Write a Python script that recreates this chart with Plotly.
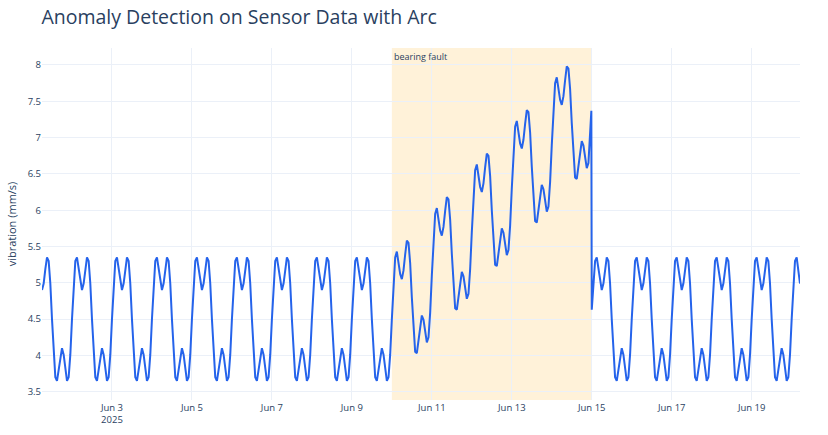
import pandas as pd
import plotly.graph_objects as go

# Hourly vibration readings (mm/s)
# Jun 1 06:00 -> Jun 9 23:00 (normal operation)
vib_before = [
    4.90, 4.99, 5.19, 5.35, 5.30, 4.99, 4.50, 4.01, 3.70, 3.65, 3.81, 4.01, 4.10, 4.01, 3.81, 3.65, 3.70, 4.01,
    4.50, 4.99, 5.30, 5.35, 5.19, 4.99, 4.90, 4.99, 5.19, 5.35, 5.30, 4.99, 4.50, 4.01, 3.70, 3.65, 3.81, 4.01, 4.10, 4.01, 3.81, 3.65, 3.70, 4.01,
    4.50, 4.99, 5.30, 5.35, 5.19, 4.99, 4.90, 4.99, 5.19, 5.35, 5.30, 4.99, 4.50, 4.01, 3.70, 3.65, 3.81, 4.01, 4.10, 4.01, 3.81, 3.65, 3.70, 4.01,
    4.50, 4.99, 5.30, 5.35, 5.19, 4.99, 4.90, 4.99, 5.19, 5.35, 5.30, 4.99, 4.50, 4.01, 3.70, 3.65, 3.81, 4.01, 4.10, 4.01, 3.81, 3.65, 3.70, 4.01,
    4.50, 4.99, 5.30, 5.35, 5.19, 4.99, 4.90, 4.99, 5.19, 5.35, 5.30, 4.99, 4.50, 4.01, 3.70, 3.65, 3.81, 4.01, 4.10, 4.01, 3.81, 3.65, 3.70, 4.01,
    4.50, 4.99, 5.30, 5.35, 5.19, 4.99, 4.90, 4.99, 5.19, 5.35, 5.30, 4.99, 4.50, 4.01, 3.70, 3.65, 3.81, 4.01, 4.10, 4.01, 3.81, 3.65, 3.70, 4.01,
    4.50, 4.99, 5.30, 5.35, 5.19, 4.99, 4.90, 4.99, 5.19, 5.35, 5.30, 4.99, 4.50, 4.01, 3.70, 3.65, 3.81, 4.01, 4.10, 4.01, 3.81, 3.65, 3.70, 4.01,
    4.50, 4.99, 5.30, 5.35, 5.19, 4.99, 4.90, 4.99, 5.19, 5.35, 5.30, 4.99, 4.50, 4.01, 3.70, 3.65, 3.81, 4.01, 4.10, 4.01, 3.81, 3.65, 3.70, 4.01,
    4.50, 4.99, 5.30, 5.35, 5.19, 4.99, 4.90, 4.99, 5.19, 5.35, 5.30, 4.99, 4.50, 4.01, 3.70, 3.65, 3.81, 4.01, 4.10, 4.01, 3.81, 3.65, 3.70, 4.01,
]

# Jun 10 00:00 -> Jun 14 23:00 hourly, plus Jun 14 23:45 (bearing fault)
vib_fault = [
    4.50, 5.02, 5.35, 5.43, 5.29, 5.12, 5.05, 5.17, 5.39, 5.58, 5.55, 5.27, 4.80, 4.34, 4.05, 4.03, 4.21, 4.44, 4.55, 4.49, 4.31, 4.18, 4.25, 4.59,
    5.10, 5.62, 5.95, 6.03, 5.89, 5.72, 5.65, 5.77, 5.99, 6.18, 6.15, 5.87, 5.40, 4.94, 4.65, 4.63, 4.81, 5.04, 5.15, 5.09, 4.91, 4.78, 4.85, 5.19,
    5.70, 6.22, 6.55, 6.63, 6.49, 6.32, 6.25, 6.37, 6.59, 6.78, 6.75, 6.47, 6.00, 5.54, 5.25, 5.23, 5.41, 5.64, 5.75, 5.69, 5.51, 5.38, 5.45, 5.79,
    6.30, 6.82, 7.15, 7.23, 7.09, 6.92, 6.85, 6.97, 7.19, 7.38, 7.35, 7.07, 6.60, 6.14, 5.85, 5.83, 6.01, 6.24, 6.35, 6.29, 6.11, 5.98, 6.05, 6.39,
    6.90, 7.42, 7.75, 7.83, 7.69, 7.52, 7.45, 7.57, 7.79, 7.98, 7.95, 7.67, 7.20, 6.74, 6.45, 6.43, 6.61, 6.84, 6.95, 6.89, 6.71, 6.58, 6.65, 6.99,
    7.37,
]

# Jun 15 00:00 -> Jun 20 05:00 (back to normal)
vib_after = [
    4.63, 4.99, 5.30, 5.35, 5.19, 4.99, 4.90, 4.99, 5.19, 5.35, 5.30, 4.99, 4.50, 4.01, 3.70, 3.65, 3.81, 4.01, 4.10, 4.01, 3.81, 3.65, 3.70, 4.01,
    4.50, 4.99, 5.30, 5.35, 5.19, 4.99, 4.90, 4.99, 5.19, 5.35, 5.30, 4.99, 4.50, 4.01, 3.70, 3.65, 3.81, 4.01, 4.10, 4.01, 3.81, 3.65, 3.70, 4.01,
    4.50, 4.99, 5.30, 5.35, 5.19, 4.99, 4.90, 4.99, 5.19, 5.35, 5.30, 4.99, 4.50, 4.01, 3.70, 3.65, 3.81, 4.01, 4.10, 4.01, 3.81, 3.65, 3.70, 4.01,
    4.50, 4.99, 5.30, 5.35, 5.19, 4.99, 4.90, 4.99, 5.19, 5.35, 5.30, 4.99, 4.50, 4.01, 3.70, 3.65, 3.81, 4.01, 4.10, 4.01, 3.81, 3.65, 3.70, 4.01,
    4.50, 4.99, 5.30, 5.35, 5.19, 4.99, 4.90, 4.99, 5.19, 5.35, 5.30, 4.99, 4.50, 4.01, 3.70, 3.65, 3.81, 4.01, 4.10, 4.01, 3.81, 3.65, 3.70, 4.01,
    4.50, 4.99, 5.30, 5.35, 5.19, 4.99,
]

fault_start = "2025-06-10"
fault_end = "2025-06-15"
fault_label = "bearing fault"

t_before = list(pd.date_range("2025-06-01 06:00", "2025-06-09 23:00", freq="h"))
t_fault = list(pd.date_range("2025-06-10 00:00", "2025-06-14 23:00", freq="h")) + [pd.Timestamp("2025-06-14 23:45")]
t_after = list(pd.date_range("2025-06-15 00:00", "2025-06-20 05:00", freq="h"))

times = t_before + t_fault + t_after
values = vib_before + vib_fault + vib_after
assert len(times) == len(values)

fig = go.Figure()
fig.add_trace(go.Scatter(
    x=times, y=values, mode="lines",
    line=dict(color="#2563eb", width=2),
    name="vibration",
))
fig.add_vrect(
    x0=fault_start, x1=fault_end,
    fillcolor="orange", opacity=0.15, line_width=0, layer="below",
    annotation_text=fault_label, annotation_position="top left",
    annotation_font=dict(size=9),
)
fig.update_layout(
    template="plotly_white",
    width=828, height=435,
    font=dict(size=9.5),
    title=dict(text="Anomaly Detection on Sensor Data with Arc", x=0.05, font=dict(size=19.5)),
    margin=dict(l=42, r=28, t=48, b=35),
    showlegend=False,
    xaxis=dict(automargin=False),
    yaxis=dict(title=dict(text="vibration (mm/s)", font=dict(size=11), standoff=8),
               range=[3.386, 8.234], dtick=0.5, automargin=False),
)
fig.write_html("out.html")
